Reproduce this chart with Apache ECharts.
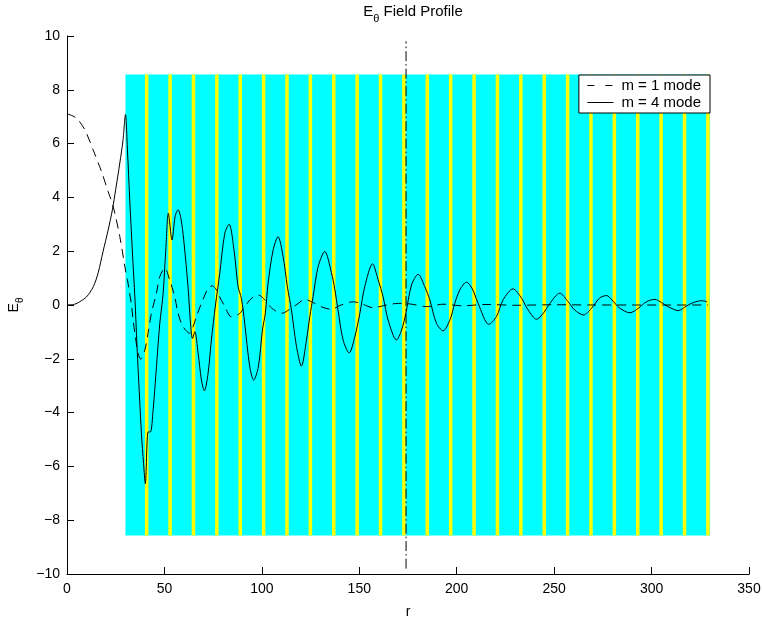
<!DOCTYPE html>
<html>
<head>
<meta charset="utf-8">
<script src="https://cdn.jsdelivr.net/npm/echarts@6/dist/echarts.min.js"></script>
<style>html,body{margin:0;padding:0;background:#fff}#c{width:763px;height:622px}</style>
</head>
<body>
<div id="c"></div>
<script>
// ---- data ----
const xTicks = [0, 50, 100, 150, 200, 250, 300, 350];
const yTicks = [-10, -8, -6, -4, -2, 0, 2, 4, 6, 8, 10];
// cladding region [rStart, rEnd, yLow, yHigh]
const region = [[30, 330, -8.57, 8.57]];
// yellow layer starts (r) and thickness
const stripeStarts = [40, 52, 64, 76, 88, 100, 112, 124, 136, 148, 160, 172, 184, 196, 208, 220, 232, 244, 256, 268, 280, 292, 304, 316, 328];
const stripeWidth = 1.8;
const markerR = 174;
const markerSpan = [-9.8, 9.8];
const m1Name = 'm = 1 mode';
const m4Name = 'm = 4 mode';
const m1Data = [
 [0,7.11],[4.8,6.95],[9.1,6.52],[13.4,5.77],[17.7,4.96],[21.1,4.22],[23.7,3.66],[27.1,2.54],[30,1.3],[31,0.95],[32,0.5],[33,0.05],[34,-0.6],[34.8,-1.05],[36.5,-1.8],[37.8,-2.01],[39.9,-1.68],[41.6,-1.05],[43.3,-0.31],[45.9,0.44],[47.6,1.05],[50.2,1.37],[52.7,0.93],[55.3,0.31],[57,-0.31],[59.6,-0.81],[63,-1.05],[64.7,-0.81],[66.4,-0.43],[69,0.06],[72.4,0.62],[74.6,0.71],[76.7,0.56],[78,0.35],[81,-0.06],[83.5,-0.41],[84.7,-0.43],[88.7,-0.31],[91.2,-0.06],[94.7,0.25],[98.2,0.37],[101.5,0.19],[105.1,-0.12],[110.1,-0.31],[114.3,-0.16],[118.7,0.06],[122,0.21],[127.2,0.06],[131.4,-0.09],[135.7,-0.16],[140,-0.02],[147,0.12],[152,0.02],[157.1,-0.1],[164,0],[170,0.06],[176,0.04],[184.5,-0.06],[193,0.03],[203,-0.03],[215,0.02],[230,-0.01],[250,0.01],[270,0],[290,0],[310,0],[329,0]
];
const m4Data = [
 [0,0],[4,0.03],[6.5,0.12],[10,0.3],[13.5,0.68],[16,1.2],[18.5,1.99],[21,2.75],[23.3,3.54],[25,4.3],[27.1,5.28],[28.7,6.1],[30,7.08],[31,5.8],[32.2,3.91],[33.5,2.05],[34.9,0.19],[35.9,-1.5],[37.3,-3.54],[38.2,-4.78],[39.3,-5.9],[40.2,-6.64],[41.6,-4.72],[42.8,-4.72],[44.2,-3.9],[45.9,-2.3],[47.6,-0.7],[49.3,0.4],[50.7,2.05],[52,3.41],[53.9,2.42],[55.5,3.3],[57,3.54],[58.5,3.2],[59.9,2.42],[62.1,0.68],[63.5,-0.8],[64.4,-1.24],[65.6,-0.99],[67.3,-1.8],[69,-2.79],[70.5,-3.19],[72.4,-2.54],[74.1,-1.3],[76.2,0],[78.4,1.18],[81,2.67],[83.2,3.0],[85.7,2.05],[87.8,0.68],[89.5,0.25],[91.2,-0.68],[93.8,-2.3],[95.8,-2.79],[98.2,-2.3],[100.3,-0.93],[101.8,-0.3],[103.2,0.81],[105.8,2.05],[108.3,2.54],[110.9,1.8],[113.1,0.68],[115.2,-0.19],[117.8,-1.55],[120.3,-2.27],[122.9,-1.3],[124.6,-0.43],[126.3,0.31],[128.9,1.43],[132.3,1.99],[135.7,1.2],[137.4,0.6],[139.1,-0.19],[141.7,-1.3],[144.8,-1.78],[147.7,-1.18],[150.3,-0.31],[152.8,0.68],[156.8,1.53],[159.7,0.93],[162.2,0.31],[164.8,-0.56],[169.1,-1.3],[171.7,-0.93],[173.9,-0.31],[176.8,0.74],[180.2,1.14],[183.6,0.68],[186.2,0.19],[189.6,-0.68],[193,-0.96],[196.5,-0.56],[199,0.06],[201.6,0.56],[205,0.85],[208,0.6],[211,0.06],[216.5,-0.72],[220.4,-0.43],[223.8,0.19],[228.9,0.6],[233.3,0.25],[236.7,-0.19],[241,-0.53],[244.4,-0.31],[247.8,0.06],[252.9,0.44],[257.2,0.12],[260.6,-0.19],[265,-0.37],[269.2,-0.12],[273.5,0.27],[277,0.35],[279.6,0.19],[283.7,-0.12],[288.9,-0.29],[293.2,-0.12],[297.4,0.12],[301.7,0.21],[305.1,0.09],[308.5,-0.06],[313.7,-0.21],[317.9,-0.04],[321.4,0.09],[325.7,0.16],[328.5,0.12]
];

// ---- chart ----
const FONT = 'Liberation Sans, Arial, Helvetica, sans-serif';
const chart = echarts.init(document.getElementById('c'), null, {renderer: 'canvas'});
const stripeRects = stripeStarts.map(s => [s, s + stripeWidth, region[0][2], region[0][3]]);
function rectItem(params, api) {
  const p0 = api.coord([api.value(0), api.value(3)]);
  const p1 = api.coord([api.value(1), api.value(2)]);
  return {type: 'rect', shape: {x: p0[0], y: p0[1], width: p1[0] - p0[0], height: p1[1] - p0[1]}, style: {fill: api.visual('color')}};
}
const fmt = v => String(v).replace('-', '\u2212');
const axisCommon = {
  axisLine: {show: true, onZero: false, lineStyle: {color: '#000', width: 1}},
  axisTick: {show: true, inside: true, length: 7, lineStyle: {color: '#000'}},
  axisLabel: {color: '#000', fontSize: 14, fontFamily: FONT, formatter: fmt},
  splitLine: {show: false}
};
const subRich = {
  e: {fontSize: 14, fontFamily: FONT, color: '#000', fontWeight: 'normal'},
  s: {fontSize: 10, fontFamily: FONT, color: '#000', fontWeight: 'normal', padding: [12, 0, 0, 0]}
};
const titleRich = {
  e: {fontSize: 15, fontFamily: FONT, color: '#000', fontWeight: 'normal'},
  s: {fontSize: 11, fontFamily: FONT, color: '#000', fontWeight: 'normal', padding: [13, 0, 0, 0]}
};
chart.setOption({
  animation: false,
  backgroundColor: '#fff',
  title: {
    text: '{e|E}{s|θ}{e| Field Profile}',
    left: 408, top: -5, textAlign: 'center',
    textStyle: {fontWeight: 'normal', rich: titleRich}
  },
  legend: {
    data: [
      {name: m1Name, lineStyle: {type: [7, 11], width: 1, color: '#000'}},
      {name: m4Name, lineStyle: {type: 'solid', width: 1, color: '#000'}}
    ],
    selectedMode: false, orient: 'vertical',
    right: 53, top: 75, backgroundColor: '#fff', borderColor: '#000', borderWidth: 1,
    padding: [3, 9, 3, 8], itemGap: 2, itemWidth: 26, itemHeight: 15,
    itemStyle: {opacity: 0},
    textStyle: {fontSize: 15, fontFamily: FONT, color: '#000', padding: [0, 0, 0, 3]}
  },
  grid: {left: 67, right: 14, top: 36, bottom: 48, containLabel: false, outerBoundsMode: 'none'},
  xAxis: Object.assign({}, axisCommon, {
    type: 'value', min: xTicks[0], max: xTicks[xTicks.length - 1], interval: 50,
    name: 'r', nameLocation: 'middle', nameGap: 31,
    nameTextStyle: {fontSize: 14, fontFamily: FONT, color: '#000'},
    axisLabel: Object.assign({}, axisCommon.axisLabel, {margin: 8})
  }),
  yAxis: Object.assign({}, axisCommon, {
    type: 'value', min: yTicks[0], max: yTicks[yTicks.length - 1], interval: 2,
    name: '{e|E}{s|θ}', nameLocation: 'middle', nameGap: 42, nameRotate: 90,
    nameTextStyle: {rich: subRich},
    axisLabel: Object.assign({}, axisCommon.axisLabel, {margin: 7})
  }),
  series: [
    {type: 'custom', renderItem: rectItem, data: region, encode: {x: [0, 1], y: [2, 3]}, itemStyle: {color: '#00ffff'}, silent: true, z: 1},
    {type: 'custom', renderItem: rectItem, data: stripeRects, encode: {x: [0, 1], y: [2, 3]}, itemStyle: {color: '#ffff00'}, silent: true, z: 2},
    {type: 'line', data: [[markerR, markerSpan[0]], [markerR, markerSpan[1]]], symbol: 'none', silent: true, z: 3,
     lineStyle: {color: '#000', width: 1, type: [10, 3, 1.5, 3]}},
    {name: m1Name, type: 'line', data: m1Data, symbol: 'none', smooth: 0.3, z: 4,
     lineStyle: {color: '#000', width: 1, type: [9, 6]}, itemStyle: {color: '#000'}},
    {name: m4Name, type: 'line', data: m4Data, symbol: 'none', smooth: 0.3, z: 5,
     lineStyle: {color: '#000', width: 1, type: 'solid'}, itemStyle: {color: '#000'}}
  ]
});
</script>
</body>
</html>
